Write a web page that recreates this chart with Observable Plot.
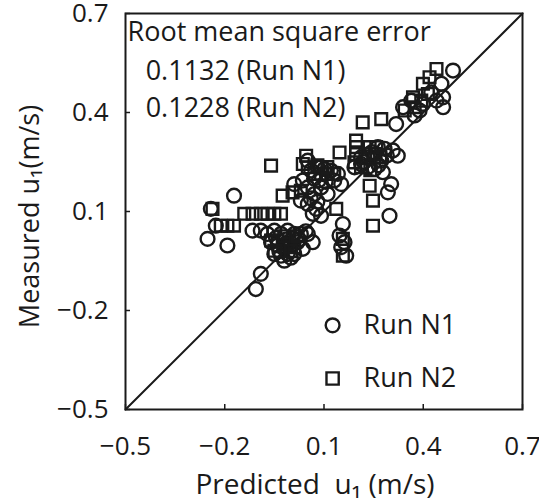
<!DOCTYPE html>
<html>
<head>
<meta charset="utf-8">
<script src="https://cdn.jsdelivr.net/npm/d3@7"></script>
<script src="https://cdn.jsdelivr.net/npm/@observablehq/plot@0.6"></script>
<style>
  body { margin: 0; background: #fff; }
</style>
</head>
<body>
<div id="chart"></div>
<script>
// Run N1 (circles): predicted vs measured u1, m/s
const n1Predicted = [
  -0.242, -0.227, -0.252, -0.192, -0.172, -0.116, -0.091, -0.071, -0.050, -0.030,
  -0.010, 0.010, 0.030, 0.051, 0.066, -0.060, -0.040, -0.020, 0.000, 0.020,
  0.036, -0.030, -0.010, -0.020, 0.010, -0.050, -0.091, -0.106, 0.010, 0.036,
  0.051, 0.061, 0.081, 0.101, 0.121, 0.142, 0.051, 0.071, 0.091, 0.111,
  0.051, 0.076, 0.091, 0.066, 0.030, 0.152, 0.131, 0.091, 0.157, 0.147,
  0.162, 0.167, 0.152, 0.192, 0.212, 0.232, 0.253, 0.263, 0.283, 0.308,
  0.323, 0.253, 0.232, 0.278, 0.303, 0.293, 0.298, 0.212, 0.273, 0.318,
  0.339, 0.364, 0.374, 0.389, 0.399, 0.424, 0.440, 0.460, 0.460, 0.490,
  0.455, -0.045, -0.015, 0.005, 0.025, -0.035, 0.000, 0.045, 0.070, 0.085,
  0.105, 0.060, 0.080, 0.220, 0.245, 0.265, 0.290
];
const n1Measured = [
  0.108, 0.057, 0.017, -0.003, 0.148, 0.042, 0.042, 0.032, 0.042, 0.032,
  0.042, 0.032, 0.032, 0.032, 0.007, 0.007, -0.003, -0.013, -0.003, 0.007,
  -0.013, -0.034, -0.029, -0.049, -0.029, -0.029, -0.089, -0.135, 0.183, 0.194,
  0.254, 0.224, 0.234, 0.229, 0.224, 0.214, 0.173, 0.153, 0.173, 0.153,
  0.123, 0.108, 0.087, 0.093, 0.133, 0.183, 0.194, 0.234, 0.062, 0.027,
  0.007, -0.034, -0.008, 0.234, 0.244, 0.264, 0.264, 0.295, 0.290, 0.285,
  0.269, 0.229, 0.234, 0.219, 0.183, 0.158, 0.087, 0.264, 0.254, 0.365,
  0.416, 0.436, 0.391, 0.406, 0.426, 0.461, 0.436, 0.446, 0.416, 0.527,
  0.487, 0.020, 0.015, 0.020, 0.015, -0.020, -0.040, 0.040, 0.200, 0.195,
  0.190, 0.140, 0.130, 0.250, 0.280, 0.240, 0.270
];

// Run N2 (squares): predicted vs measured u1, m/s
const n2Predicted = [
  -0.237, -0.212, -0.192, -0.172, -0.141, -0.116, -0.091, -0.071, -0.050, -0.030,
  -0.060, -0.025, 0.005, 0.036, 0.046, 0.051, 0.071, 0.091, 0.111, 0.131,
  0.030, 0.137, 0.157, 0.157, -0.060, -0.040, -0.010, 0.010, -0.050, 0.147,
  0.197, 0.197, 0.197, 0.192, 0.217, 0.273, 0.238, 0.258, 0.253, 0.212,
  0.238, 0.248, 0.248, 0.344, 0.369, 0.374, 0.399, 0.419, 0.440, 0.394,
  0.414, -0.020, 0.020, 0.000, 0.080, 0.110, 0.225, 0.270, 0.240
];
const n2Measured = [
  0.108, 0.057, 0.057, 0.057, 0.093, 0.093, 0.093, 0.093, 0.093, 0.093,
  0.239, 0.148, 0.158, 0.244, 0.269, 0.234, 0.214, 0.214, 0.214, 0.214,
  0.163, 0.108, 0.017, -0.034, 0.012, 0.012, 0.002, -0.008, -0.019, 0.279,
  0.315, 0.295, 0.274, 0.249, 0.370, 0.380, 0.295, 0.295, 0.274, 0.234,
  0.178, 0.133, 0.057, 0.406, 0.446, 0.416, 0.487, 0.507, 0.532, 0.436,
  0.456, 0.025, 0.025, -0.020, 0.240, 0.235, 0.275, 0.265, 0.225
];

const axisTicks = [-0.5, -0.2, 0.1, 0.4, 0.7];
const rmseTitle = "Root mean square error";
const rmseRuns = ["0.1132 (Run N1)", "0.1228 (Run N2)"];
const runNames = ["Run N1", "Run N2"];
const xLabel = "Predicted  u\u2081 (m/s)";
const yLabel = "Measured u\u2081(m/s)";

const runN1 = n1Predicted.map((p, i) => ({predicted: p, measured: n1Measured[i]}));
const runN2 = n2Predicted.map((p, i) => ({predicted: p, measured: n2Measured[i]}));
const diagonal = [axisTicks[0], axisTicks[axisTicks.length - 1]];

// legend entries and annotation lines placed in data space
const legend = [
  {name: runNames[0], symbol: "circle", x: 0.126, y: -0.245},
  {name: runNames[1], symbol: "square", x: 0.126, y: -0.406}
];
const notes = [
  {text: rmseTitle, x: -0.494, y: 0.642},
  {text: rmseRuns[0], x: -0.439, y: 0.526},
  {text: rmseRuns[1], x: -0.439, y: 0.413}
];

const fmt = d3.format(".1f");
const ink = "#1a1a1a";
const markerStroke = 2.4;

const chart = Plot.plot({
  width: 539,
  height: 503,
  marginLeft: 125,
  marginRight: 17,
  marginTop: 13,
  marginBottom: 94,
  style: {fontFamily: "'Open Sans', sans-serif", fontSize: "27px", color: ink, background: "#fff"},
  x: {domain: [-0.5, 0.7]},
  y: {domain: [-0.5, 0.7]},
  marks: [
    Plot.axisX(axisTicks, {tickSize: -5, tickPadding: 32, tickFormat: fmt, label: null, stroke: ink, strokeWidth: 1.5, fontSize: 26}),
    Plot.axisY(axisTicks, {tickSize: -5, tickPadding: 22, tickFormat: fmt, label: null, stroke: ink, strokeWidth: 1.5, fontSize: 26}),
    Plot.frame({stroke: ink, strokeWidth: 2}),
    Plot.line(diagonal, {x: d => d, y: d => d, stroke: ink, strokeWidth: 2}),
    Plot.dot(runN1, {x: "predicted", y: "measured", symbol: "circle", r: 6.9, stroke: ink, strokeWidth: markerStroke, fill: "none"}),
    Plot.dot(runN2, {x: "predicted", y: "measured", symbol: "square", r: 6.6, stroke: ink, strokeWidth: markerStroke, fill: "none"}),
    Plot.dot(legend, {x: "x", y: "y", symbol: "symbol", r: 6.9, stroke: ink, strokeWidth: markerStroke, fill: "none"}),
    Plot.text(legend, {x: "x", y: "y", text: "name", textAnchor: "start", dx: 31, fill: ink}),
    Plot.text(notes, {x: "x", y: "y", text: "text", textAnchor: "start", fill: ink}),
    Plot.text([xLabel], {text: d => d, frameAnchor: "bottom", textAnchor: "middle", lineAnchor: "middle", dy: 76, dx: -9, fontSize: 28, fill: ink}),
    Plot.text([yLabel], {text: d => d, frameAnchor: "left", textAnchor: "middle", lineAnchor: "middle", rotate: -90, dx: -95, dy: 5, fill: ink})
  ]
});

document.getElementById("chart").append(chart);
</script>
</body>
</html>
